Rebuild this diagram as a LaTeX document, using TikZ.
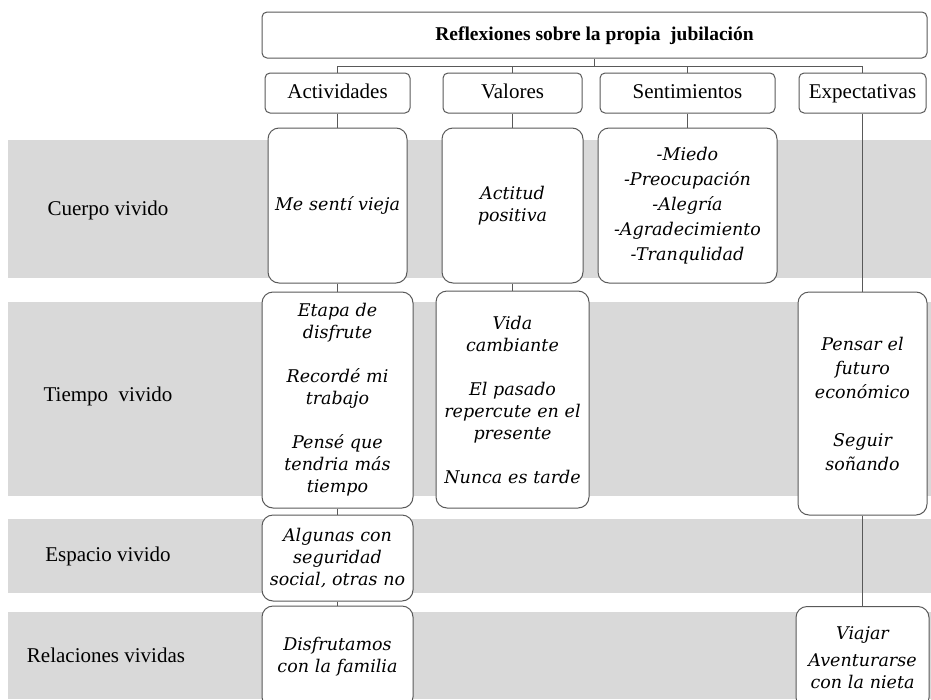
\documentclass[tikz,border=0pt]{standalone}
\usepackage{fontspec}
\setmainfont{Liberation Serif}
\newfontfamily\cellfont{DejaVu Serif}
\definecolor{bandgray}{HTML}{D9D9D9}
\definecolor{linegray}{HTML}{595959}
\begin{document}
\begin{tikzpicture}[x=1pt,y=-1pt,
		headbox/.style={draw=linegray,line width=1pt,rounded corners=5pt,fill=white,inner sep=0pt,minimum height=40pt,text height=14pt,text depth=4pt,font=\fontsize{21}{24}\selectfont},
		cellbox/.style={draw=linegray,line width=1pt,rounded corners=11pt,fill=white,inner sep=2pt,align=center,font=\cellfont\itshape\fontsize{17.5}{22}\selectfont},
		rowlabel/.style={font=\fontsize{21}{24}\selectfont},
		link/.style={draw=linegray,line width=1pt}]
	\useasboundingbox (0,0) rectangle (931,699);
	\clip (0,0) rectangle (931,699);
	% bands
	\fill[bandgray] (8,140) rectangle (931,278);
	\fill[bandgray] (8,302) rectangle (931,496);
	\fill[bandgray] (8,519) rectangle (931,593);
	\fill[bandgray] (8,612) rectangle (931,699);
	\node[rowlabel] (cuerpo) at (108,210) {Cuerpo vivido};
	\node[rowlabel] (tiempo) at (108,396) {Tiempo~ vivido};
	\node[rowlabel] (espacio) at (108,556) {Espacio vivido};
	\node[rowlabel] (relac) at (106,655) {Relaciones vividas};
	% top
	\node[headbox,minimum width=665pt,minimum height=46pt,font=\bfseries\fontsize{19.5}{24}\selectfont] (title) at (594.5,35) {Reflexiones sobre la propia~ jubilación};
	\node[headbox,minimum width=145pt] (act) at (337.5,93) {Actividades};
	\node[headbox,minimum width=139pt] (val) at (512.5,93) {Valores};
	\node[headbox,minimum width=175pt] (sen) at (687.5,93) {Sentimientos};
	\node[headbox,minimum width=127pt] (exp) at (862.5,93) {Expectativas};
	\coordinate (bus) at (594.5,66);
	\draw[link] (title.south) -- (bus);
	\foreach \h in {act,val,sen,exp}
		\draw[link] (\h.north) |- (bus);
	% cells
	\node[cellbox,text width=135pt,minimum height=155pt] (vieja) at (337.5,205.5) {Me sentí vieja};
	\node[cellbox,text width=147pt,minimum height=216pt] (disfrute) at (337.5,400) {Etapa de\\disfrute\\[22pt]Recordé mi\\trabajo\\[22pt]Pensé que\\tendria más\\tiempo};
	\node[cellbox,text width=147pt,minimum height=86pt] (seguridad) at (337.5,558) {Algunas con\\seguridad\\social, otras no};
	\node[cellbox,text width=147pt,minimum height=102pt] (familia) at (337.5,657) {Disfrutamos\\con la familia};
	\node[cellbox,text width=137pt,minimum height=155pt] (actitud) at (512.5,205.5) {Actitud\\positiva};
	\node[cellbox,text width=149pt,minimum height=217pt] (vida) at (512.5,399.5) {Vida\\cambiante\\[22pt]El pasado\\repercute en el\\presente\\[22pt]Nunca es tarde};
	\node[cellbox,text width=175pt,minimum height=155pt,font=\cellfont\itshape\fontsize{17.5}{25}\selectfont] (emociones) at (687.5,205.5) {-Miedo\\-Preocupación\\-Alegría\\-Agradecimiento\\-Tranqulidad};
	\node[cellbox,text width=125pt,minimum height=223pt,font=\cellfont\itshape\fontsize{17.5}{24}\selectfont] (futuro) at (862.5,403.5) {Pensar el\\futuro\\económico\\[24pt]Seguir\\soñando};
	\node[cellbox,text width=129pt,minimum height=102pt] (viajar) at (862.5,657.5) {Viajar\\[5pt]Aventurarse\\con la nieta};
	% links
	\draw[link] (act) -- (vieja);
	\draw[link] (vieja) -- (disfrute);
	\draw[link] (disfrute) -- (seguridad);
	\draw[link] (seguridad) -- (familia);
	\draw[link] (val) -- (actitud);
	\draw[link] (actitud) -- (vida);
	\draw[link] (sen) -- (emociones);
	\draw[link] (exp) -- (futuro);
	\draw[link] (futuro) -- (viajar);
\end{tikzpicture}
\end{document}
